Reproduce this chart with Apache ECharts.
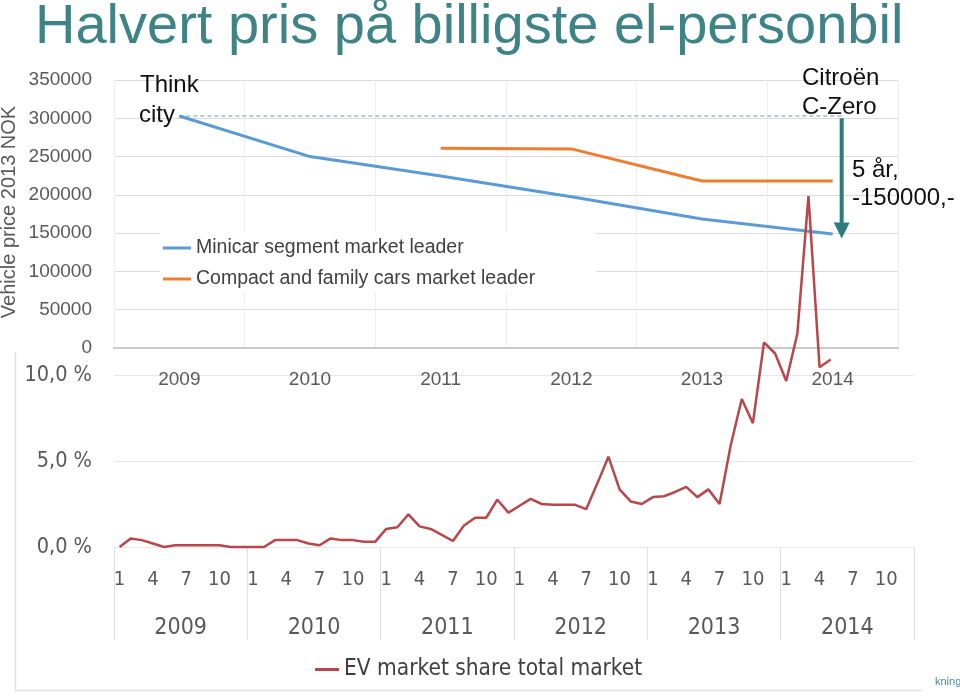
<!DOCTYPE html>
<html><head><meta charset="utf-8">
<script src="https://cdn.jsdelivr.net/npm/echarts@6.0.0/dist/echarts.min.js"></script>
<style>html,body{margin:0;padding:0;background:#fff}#c{width:960px;height:697px}</style>
</head><body><div id="c"></div>
<script>
// ---- data ----
const years = ['2009', '2010', '2011', '2012', '2013', '2014'];
const minicarPrice = [303000, 250000, 224500, 197500, 168500, 149000];
const compactPrice = [null, null, 261000, 260000, 218000, 218000];
const monthNumbers = [1, 2, 3, 4, 5, 6, 7, 8, 9, 10, 11, 12];
const evShare = [
  0.0, 0.5, 0.4, 0.2, 0.0, 0.1, 0.1, 0.1, 0.1, 0.1, 0.0, 0.0,
  0.0, 0.0, 0.4, 0.4, 0.4, 0.2, 0.1, 0.5, 0.4, 0.4, 0.3, 0.3,
  1.05, 1.15, 1.9, 1.2, 1.05, 0.7, 0.35, 1.25, 1.7, 1.7, 2.75, 2.0,
  2.4, 2.8, 2.5, 2.45, 2.45, 2.45, 2.2, 3.7, 5.25, 3.35, 2.65, 2.5,
  2.9, 2.95, 3.2, 3.5, 2.9, 3.35, 2.5, 5.9, 8.6, 7.2, 11.9, 11.25,
  9.65, 12.4, 20.4, 10.45, 10.9, null, null, null, null, null, null, null
];
const dashValue = 303000;   // Think city price reference line
const arrowTop = 300000;
const arrowTip = 143000;

const monthLabels = [];
years.forEach(() => monthNumbers.forEach(m => monthLabels.push(String(m))));

const SANS = '"Liberation Sans", Arial, sans-serif';
const NARROW = '"DejaVu Sans Condensed", "Liberation Sans Narrow", sans-serif';
const GRAY = '#595959';

const chart = echarts.init(document.getElementById('c'));
const option = {
  animation: false,
  backgroundColor: '#fff',
  grid: [
    {left: 114, right: 62, top: 80, bottom: 349},
    {left: 114, right: 46, top: 375, bottom: 150}
  ],
  xAxis: [
    {type: 'category', gridIndex: 0, data: years, boundaryGap: true,
     axisLine: {lineStyle: {color: '#cacaca', width: 2}}, axisTick: {show: false},
     axisLabel: {margin: 22, color: GRAY, fontSize: 19, fontFamily: SANS},
     splitLine: {show: true, lineStyle: {color: '#eeeeee'}}},
    {type: 'category', gridIndex: 1, data: monthLabels, boundaryGap: true,
     axisLine: {show: false}, axisTick: {show: false},
     axisLabel: {interval: (i) => i % 3 === 0, margin: 23, color: GRAY, fontSize: 20, fontFamily: NARROW},
     splitLine: {show: false}},
    {type: 'category', gridIndex: 1, data: years, boundaryGap: true, position: 'bottom',
     axisLine: {show: false},
     axisTick: {show: true, length: 93, lineStyle: {color: '#e2e2e2'}},
     axisLabel: {margin: 70, color: GRAY, fontSize: 23, fontFamily: NARROW},
     splitLine: {show: false}}
  ],
  yAxis: [
    {type: 'value', gridIndex: 0, min: 0, max: 350000, interval: 50000,
     axisLine: {show: false}, axisTick: {show: false},
     axisLabel: {margin: 22, color: GRAY, fontSize: 19, fontFamily: SANS, formatter: v => String(v)},
     splitLine: {lineStyle: {color: '#dcdcdc'}}},
    {type: 'value', gridIndex: 1, min: 0, max: 10, interval: 5,
     axisLine: {show: false}, axisTick: {show: false},
     axisLabel: {margin: 22, color: GRAY, fontSize: 21.5, fontFamily: NARROW,
       formatter: v => v.toFixed(1).replace('.', ',') + ' %'},
     splitLine: {lineStyle: {color: '#e6e6e6'}}}
  ],
  legend: [
    {data: ['Minicar segment market leader', 'Compact and family cars market leader'],
     orient: 'vertical', left: 158, top: 233, icon: 'rect', itemWidth: 28, itemHeight: 3, itemGap: 11,
     textStyle: {fontSize: 19.5, color: '#404040', fontFamily: SANS, lineHeight: 20}},
    {data: ['EV market share total market'],
     left: 310, top: 653, icon: 'rect', itemWidth: 24, itemHeight: 3,
     textStyle: {fontSize: 22.5, color: '#404040', fontFamily: NARROW}}
  ],
  series: [
    {name: 'Minicar segment market leader', type: 'line', xAxisIndex: 0, yAxisIndex: 0,
     data: minicarPrice, symbol: 'none', color: '#5b9bd5', lineStyle: {width: 3}, z: 3},
    {name: 'Compact and family cars market leader', type: 'line', xAxisIndex: 0, yAxisIndex: 0,
     data: compactPrice, symbol: 'none', color: '#ed7d31', lineStyle: {width: 3}, z: 3},
    {name: 'EV market share total market', type: 'line', xAxisIndex: 1, yAxisIndex: 1,
     data: evShare, symbol: 'none', color: '#b8474b', lineStyle: {width: 2.5}, clip: false, z: 5}
  ]
};
chart.setOption(option);

// annotations placed through the library's own scales
const pA = chart.convertToPixel({xAxisIndex: 0, yAxisIndex: 0}, [0, dashValue]);
const pB = chart.convertToPixel({xAxisIndex: 0, yAxisIndex: 0}, [5, dashValue]);
const aT = chart.convertToPixel({xAxisIndex: 0, yAxisIndex: 0}, [5, arrowTop]);
const aB = chart.convertToPixel({xAxisIndex: 0, yAxisIndex: 0}, [5, arrowTip]);
const ax = aT[0] + 9;
const TEAL = '#2c7b7d';
function txt(id, text, x, y, size, color, extra) {
  return Object.assign({type: 'text', id, x, y, z: 10,
    style: {text, fill: color, font: size + 'px ' + SANS, align: 'left', verticalAlign: 'middle'}}, extra || {});
}
chart.setOption({
  graphic: [
    {type: 'rect', id: 'legbg', z: 1, shape: {x: 160, y: 232, width: 436, height: 60}, style: {fill: '#ffffff'}},
    txt('title', 'Halvert pris på billigste el-personbil', 35, 28, 56, '#3e8487'),
    {type: 'text', id: 'yname', x: 9, y: 212, rotation: Math.PI / 2, z: 10,
     style: {text: 'Vehicle price 2013 NOK', fill: GRAY, font: '20px ' + SANS, align: 'center', verticalAlign: 'middle'}},
    txt('think1', 'Think', 140, 85, 24, '#111'),
    txt('think2', 'city', 139, 115, 24, '#111'),
    txt('cit1', 'Citroën', 802, 78, 24, '#111'),
    txt('cit2', 'C-Zero', 802, 107, 24, '#111'),
    txt('yr1', '5 år,', 852, 170, 24, '#111'),
    txt('yr2', '-150000,-', 852, 198, 24, '#111'),
    {type: 'line', id: 'dash', z: 2, shape: {x1: pA[0], y1: pA[1], x2: pB[0] + 10, y2: pB[1]},
     style: {stroke: '#6e9c9c', lineWidth: 1, lineDash: [4, 3]}},
    {type: 'line', id: 'arrowShaft', z: 6, shape: {x1: ax, y1: aT[1], x2: ax, y2: aB[1] - 14},
     style: {stroke: TEAL, lineWidth: 4}},
    {type: 'polygon', id: 'arrowHead', z: 6,
     shape: {points: [[ax - 8, aB[1] - 16], [ax + 8, aB[1] - 16], [ax, aB[1]]]}, style: {fill: TEAL}},
    {type: 'line', id: 'frameV', z: 0, shape: {x1: 15.5, y1: 352, x2: 15.5, y2: 690}, style: {stroke: '#e0e0e0', lineWidth: 1.5}},
    {type: 'line', id: 'frameH', z: 0, shape: {x1: 15, y1: 690.5, x2: 922, y2: 690.5}, style: {stroke: '#e0e0e0', lineWidth: 1.5}},
    txt('kning', 'kning', 935, 682, 11, '#4a8a9a')
  ]
});
</script>
</body></html>
